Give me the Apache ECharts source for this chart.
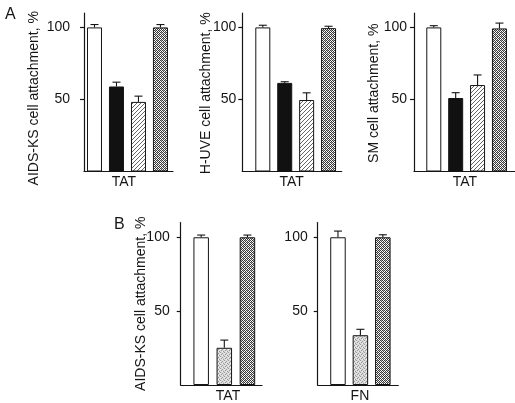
<!DOCTYPE html>
<html><head><meta charset="utf-8">
<script src="https://cdn.jsdelivr.net/npm/echarts@6/dist/echarts.min.js"></script>
<style>html,body{margin:0;padding:0;background:#fff}#c{width:515px;height:403px}</style>
</head><body><div id="c"></div>
<script>
// ---- data ----
const yTicks = [50, 100];
// Panel A (three cell types, TAT)
const yNamesA = ['AIDS-KS cell attachment, %', 'H-UVE cell attachment, %', 'SM cell attachment, %'];
const groupA = ['TAT', 'TAT', 'TAT'];
const controlA = [100, 100, 100];
const controlErrA = [2, 1.5, 1.2];
const blackA = [59, 61.5, 51];
const blackErrA = [3, 0.8, 3.7];
const hatchA = [48.3, 49.6, 60];
const hatchErrA = [4, 5, 7];
const crossA = [100, 99.5, 99.3];
const crossErrA = [2, 1.3, 3.7];
// Panel B (AIDS-KS, TAT and FN)
const yNamesB = ['AIDS-KS cell attachment, %', ''];
const groupB = ['TAT', 'FN'];
const controlB = [100, 100];
const controlErrB = [1.5, 4.2];
const dotB = [25.2, 33.7];
const dotErrB = [5.2, 4];
const crossB = [100, 100];
const crossErrB = [1.5, 1.7];

// ---- patterns ----
function mk(w, h, draw) { const c = document.createElement('canvas'); c.width = w; c.height = h; const g = c.getContext('2d'); draw(g); return { image: c, repeat: 'repeat' }; }
const hatchPat = mk(4, 4, g => { g.fillStyle = '#fff'; g.fillRect(0,0,4,4); g.strokeStyle = '#666'; g.lineWidth = 1; g.beginPath(); g.moveTo(-1,5); g.lineTo(5,-1); g.moveTo(-1,1); g.lineTo(1,-1); g.moveTo(3,5); g.lineTo(5,3); g.stroke(); });
const crossPat = mk(4, 4, g => { g.fillStyle = '#fff'; g.fillRect(0,0,4,4); g.fillStyle = '#3a3a3a'; const px=[[0,0],[1,1],[2,2],[3,3],[3,1],[1,3],[2,0],[0,2]]; px.forEach(p=>g.fillRect(p[0],p[1],1,1)); g.fillStyle='#aaa'; g.fillRect(1,0,1,1); g.fillRect(3,2,1,1);});
const dotPat = mk(4, 4, g => { g.fillStyle = '#d9d9d9'; g.fillRect(0,0,4,4); g.fillStyle = '#999'; [[0,0],[2,1],[1,2],[3,3]].forEach(p=>g.fillRect(p[0],p[1],1,1)); g.fillStyle='#f2f2f2'; [[2,3],[0,1]].forEach(p=>g.fillRect(p[0],p[1],1,1)); });

// ---- layout ----
const layoutA = [
  { left: 84, width: 89, min: -0.477, max: 3.57, nameGap: 43, labelPos: 1.34, namePad: [0, 12, 0, 0], margin: 14 },
  { left: 242.3, width: 99.4, min: -0.936, max: 3.60, nameGap: 29, labelPos: 1.32, namePad: [0, 2, 0, 0], margin: 6 },
  { left: 414, width: 101, min: -0.904, max: 3.71, nameGap: 33, labelPos: 1.42, namePad: [0, 2, 0, 0], margin: 7 }
];
const layoutB = [
  { left: 180.7, width: 81.3, min: -0.886, max: 2.63, nameGap: 33, labelPos: 1.16, namePad: [0, 0, 0, 0], margin: 11 },
  { left: 317.7, width: 80.6, min: -0.904, max: 2.69, nameGap: 33, labelPos: 0.98, namePad: [0, 0, 0, 0], margin: 10 }
];
const ink = '#151515';
const font = 'Liberation Sans, Arial, sans-serif';

const grid = [], xAxis = [], yAxis = [], series = [];
function errRender(params, api) {
  const x = api.value(0), v = api.value(1), e = api.value(2);
  const p0 = api.coord([x, v]), p1 = api.coord([x, v + e]);
  const st = { stroke: ink, lineWidth: 1.1 };
  return { type: 'group', children: [
    { type: 'line', shape: { x1: p0[0], y1: p0[1], x2: p1[0], y2: p1[1] }, style: st },
    { type: 'line', shape: { x1: p1[0] - 4, y1: p1[1], x2: p1[0] + 4, y2: p1[1] }, style: st }
  ]};
}
function addPanel(L, top, height, yName, group, vals, errs, fills, bw) {
  const i = grid.length;
  grid.push({ left: L.left, width: L.width, top: top, height: height, containLabel: false });
  xAxis.push({ type: 'value', gridIndex: i, min: L.min, max: L.max, splitLine: { show: false },
    axisLine: { show: true, onZero: false, lineStyle: { color: ink, width: 1.2 } }, axisTick: { show: false },
    axisLabel: { customValues: [L.labelPos], formatter: () => group, color: ink, fontSize: 14, fontFamily: font, margin: 4 } });
  yAxis.push({ type: 'value', gridIndex: i, min: 0, max: 110, interval: 50, splitLine: { show: false },
    name: yName, nameLocation: 'middle', nameGap: L.nameGap, nameMoveOverlap: false,
    nameTextStyle: { color: ink, fontSize: 14, fontFamily: font, padding: L.namePad },
    axisLine: { show: true, onZero: false, lineStyle: { color: ink, width: 1.2 } },
    axisTick: { show: true, customValues: yTicks, length: 4, lineStyle: { color: ink, width: 1.2 } },
    axisLabel: { customValues: yTicks, color: ink, fontSize: 14, fontFamily: font, margin: L.margin } });
  series.push({ type: 'bar', xAxisIndex: i, yAxisIndex: i, barWidth: bw, animation: false,
    data: vals.map((v, k) => ({ value: [k, v], itemStyle: { color: fills[k], borderColor: ink, borderWidth: 1 } })) });
  series.push({ type: 'custom', xAxisIndex: i, yAxisIndex: i, renderItem: errRender, z: 5, clip: false, animation: false,
    data: vals.map((v, k) => [k, v, errs[k]]) });
}
const fillsA = ['#fff', '#111', hatchPat, crossPat];
for (let p = 0; p < 3; p++) {
  addPanel(layoutA[p], 13, 158.5, yNamesA[p], groupA[p],
    [controlA[p], blackA[p], hatchA[p], crossA[p]],
    [controlErrA[p], blackErrA[p], hatchErrA[p], crossErrA[p]], fillsA, 15);
}
const fillsB = ['#fff', dotPat, crossPat];
for (let p = 0; p < 2; p++) {
  addPanel(layoutB[p], 222.5, 164, yNamesB[p], groupB[p],
    [controlB[p], dotB[p], crossB[p]],
    [controlErrB[p], dotErrB[p], crossErrB[p]], fillsB, 15.5);
}

const chart = echarts.init(document.getElementById('c'), null, { renderer: 'canvas' });
chart.setOption({
  animation: false,
  backgroundColor: '#fff',
  title: [
    { text: 'A', left: 0, top: 2, textStyle: { fontSize: 16, fontWeight: 'normal', color: ink, fontFamily: font } },
    { text: 'B', left: 109, top: 212, textStyle: { fontSize: 16, fontWeight: 'normal', color: ink, fontFamily: font } }
  ],
  grid, xAxis, yAxis, series
});
</script></body></html>
